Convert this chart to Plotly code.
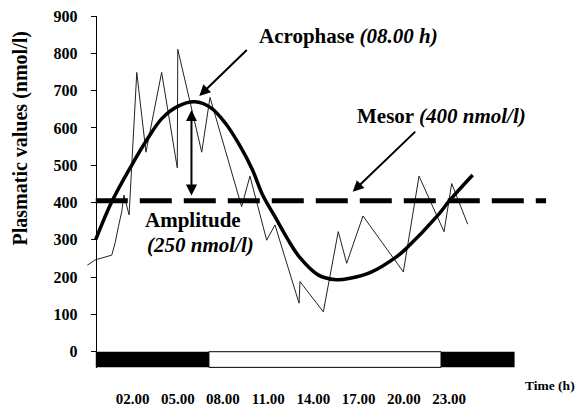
import plotly.graph_objects as go

# ---- data (hours, nmol/l) ----
obs_time = [-1.00, -0.49, 0.62, 0.84, 1.06, 1.28, 1.43, 1.77, 2.28, 2.89, 3.93, 4.97, 5.00,
            6.59, 7.14, 9.24, 9.79, 10.90, 11.45, 13.05, 13.11, 14.66, 15.65, 16.21, 17.29,
            19.97, 21.01, 22.67, 23.18, 24.24]
obs_value = [232, 246, 259, 291, 335, 375, 420, 367, 749, 535, 749, 493, 811,
             535, 682, 389, 471, 299, 340, 130, 188, 107, 322, 237, 364,
             214, 471, 322, 451, 342]

fit_time = [-0.44, 0.62, 1.94, 2.90, 3.94, 5.00, 6.14, 7.20, 8.14, 9.13, 9.93, 10.66, 11.45,
            12.32, 13.11, 14.31, 15.50, 16.43, 17.76, 19.53, 20.19, 22.18, 23.07, 24.57]
fit_value = [301, 402, 500, 565, 625, 658, 670, 654, 614, 552, 490, 418, 362,
             300, 252, 206, 193, 197, 212, 255, 278, 362, 407, 474]

mesor_value = 405
mesor_span = [-0.44, 29.44]

bar_start, lights_on, lights_off, bar_end = -0.44, 7.07, 22.47, 27.35
bar_bottom = -42

tick_hours = [2, 5, 8, 11, 14, 17, 20, 23]
tick_labels = ["02.00", "05.00", "08.00", "11.00", "14.00", "17.00", "20.00", "23.00"]
y_ticks = [0, 100, 200, 300, 400, 500, 600, 700, 800, 900]

amp_top, amp_bottom, amp_time = 648, 415, 5.91

FONT = "Liberation Serif, Times New Roman, Times, DejaVu Serif, serif"
OFF = 8  # page body margin
W, H = 583 - OFF, 409 - OFF
ML, MR, MT, MB = 85 - OFF, 33, 16 - OFF, 41
PW, PH = W - ML - MR, H - MT - MB


def px(x):
    return (x - OFF - ML) / PW


def py(y):
    return (H - MB - (y - OFF)) / PH


fig = go.Figure()

fig.add_trace(go.Scatter(x=obs_time, y=obs_value, mode="lines",
                         line=dict(color="#222", width=1), hoverinfo="skip"))
fig.add_trace(go.Scatter(x=mesor_span, y=[mesor_value, mesor_value], mode="lines",
                         line=dict(color="black", width=5, dash="32px,12px"), hoverinfo="skip"))
fig.add_trace(go.Scatter(x=fit_time, y=fit_value, mode="lines",
                         line=dict(color="black", width=3.5, shape="spline", smoothing=1.0),
                         hoverinfo="skip"))

shapes = [
    dict(type="rect", xref="x", yref="y", x0=bar_start, x1=lights_on, y0=bar_bottom, y1=0,
         fillcolor="black", line=dict(width=0)),
    dict(type="rect", xref="x", yref="y", x0=lights_on, x1=lights_off, y0=bar_bottom, y1=0,
         fillcolor="white", line=dict(color="black", width=1)),
    dict(type="rect", xref="x", yref="y", x0=lights_off, x1=bar_end, y0=bar_bottom, y1=0,
         fillcolor="black", line=dict(width=0)),
]

arrow_common = dict(showarrow=True, arrowhead=2, arrowsize=1.1, arrowwidth=2, arrowcolor="black",
                    axref="x", ayref="y", xref="x", yref="y", text="", standoff=0, startstandoff=0)
annotations = [
    dict(x=6.43, y=686, ax=9.68, ay=813, **arrow_common),
    dict(x=16.61, y=429, ax=20.86, ay=594, **arrow_common),
    dict(x=amp_time, y=amp_top, ax=amp_time, ay=amp_bottom, arrowside="end+start", **arrow_common),
]

text_font = dict(family=FONT, size=21, color="black")
for txt, x, y in [
    ("<b>Acrophase <i>(08.00 h)</i></b>", 348, 36),
    ("<b>Mesor <i>(400 nmol/l)</i></b>", 441, 116),
    ("<b>Amplitude</b>", 193, 220),
    ("<b><i>(250 nmol/l)</i></b>", 200, 245),
]:
    annotations.append(dict(text=txt, x=px(x), y=py(y), xref="paper", yref="paper",
                            showarrow=False, font=text_font, xanchor="center", yanchor="middle"))

annotations.append(dict(text="<b>Time (h)</b>", x=px(550), y=py(385), xref="paper", yref="paper",
                        showarrow=False, font=dict(family=FONT, size=13.5, color="black"),
                        xanchor="center", yanchor="middle"))
annotations.append(dict(text="<b>Plasmatic values (nmol/l)</b>", x=px(19.5), y=py(139),
                        xref="paper", yref="paper", showarrow=False, textangle=-90,
                        font=dict(family=FONT, size=20, color="black"),
                        xanchor="center", yanchor="middle"))

x0h = -1.155
x1h = x0h + PW / 15.07

fig.update_layout(
    width=W, height=H,
    margin=dict(l=ML, r=MR, t=MT, b=MB, pad=0, autoexpand=False),
    paper_bgcolor="white", plot_bgcolor="white",
    showlegend=False,
    shapes=shapes,
    annotations=annotations,
    xaxis=dict(range=[x0h, x1h], tickvals=tick_hours, ticktext=tick_labels,
               automargin=False, ticklabeloverflow="allow",
               showgrid=False, zeroline=False, showline=False,
               ticks="outside", ticklen=17, tickcolor="rgba(0,0,0,0)",
               tickfont=dict(family=FONT, size=15, color="black", weight="bold")),
    yaxis=dict(range=[900 - PH / 0.373, 900.3], tickvals=y_ticks,
               automargin=False, ticklabeloverflow="allow",
               anchor="free", position=(95.7 - OFF - ML) / PW,
               showgrid=False, zeroline=False, showline=True, linecolor="black", linewidth=1,
               ticks="outside", ticklen=5, tickwidth=1, tickcolor="black",
               ticklabelstandoff=10,
               tickfont=dict(family=FONT, size=16, color="black", weight="bold")),
)

fig.write_html("out.html")
